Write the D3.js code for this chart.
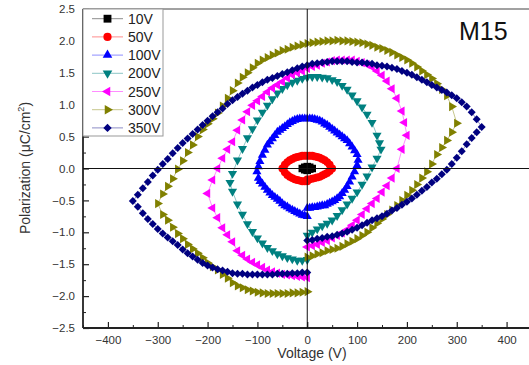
<!DOCTYPE html>
<html>
<head>
<meta charset="utf-8">
<script src="https://cdn.jsdelivr.net/npm/d3@7"></script>
<style>
  body { margin: 0; background: #fff; }
  text { font-family: Arial, "Liberation Sans", sans-serif; }
</style>
</head>
<body>
<svg id="chart" width="529" height="365"></svg>
<script>
// values: [voltage (V), polarization (uC/cm2)]
const seriesNames = ["10V", "50V", "100V", "200V", "250V", "300V", "350V"];
const xTicks = [-400, -300, -200, -100, 0, 100, 200, 300, 400];
const yTicks = [-2.5, -2.0, -1.5, -1.0, -0.5, 0.0, 0.5, 1.0, 1.5, 2.0, 2.5];
const sampleLabel = "M15";

const loop10 = [[0,-0.02],[5,-0.01],[10,0],[5,0.02],[0,0.03],[-5,0.02],[-10,0],[-5,-0.02],[0,-0.03]];

const loop50 = [
  [0,-0.17],[5,-0.17],[10,-0.16],[15,-0.15],[20,-0.14],[25,-0.13],[30,-0.11],[35,-0.09],[40,-0.07],[45,-0.04],[50,0],
  [45,0.06],[40,0.1],[35,0.13],[30,0.15],[25,0.17],[20,0.18],[15,0.19],[10,0.2],[5,0.2],[0,0.2],
  [-5,0.2],[-10,0.2],[-15,0.19],[-20,0.18],[-25,0.17],[-30,0.15],[-35,0.13],[-40,0.1],[-45,0.06],[-50,0],
  [-45,-0.06],[-40,-0.1],[-35,-0.13],[-30,-0.15],[-25,-0.17],[-20,-0.18],[-15,-0.19],[-10,-0.2],[-5,-0.2],[0,-0.2]
];

const loop100 = [
  [0,-0.62],[5,-0.62],[10,-0.61],[15,-0.61],[20,-0.6],[25,-0.59],[30,-0.58],[35,-0.58],[40,-0.56],[45,-0.54],[50,-0.52],
  [55,-0.5],[60,-0.47],[65,-0.44],[70,-0.39],[75,-0.34],[80,-0.28],[85,-0.21],[90,-0.13],[95,-0.05],[100,0.05],[102,0.13],
  [100,0.22],[95,0.28],[90,0.34],[85,0.39],[80,0.44],[75,0.47],[70,0.5],[65,0.53],[60,0.56],[55,0.59],[50,0.62],
  [45,0.65],[40,0.68],[35,0.7],[30,0.73],[25,0.75],[20,0.76],[15,0.77],[10,0.78],[5,0.78],[0,0.78],
  [-5,0.78],[-10,0.78],[-15,0.78],[-20,0.77],[-25,0.76],[-30,0.74],[-35,0.72],[-40,0.69],[-45,0.66],[-50,0.63],
  [-55,0.6],[-60,0.57],[-65,0.52],[-70,0.47],[-75,0.42],[-80,0.37],[-85,0.29],[-90,0.21],[-95,0.11],[-98,0.03],[-101,-0.05],
  [-98,-0.15],[-95,-0.2],[-90,-0.24],[-85,-0.29],[-80,-0.34],[-75,-0.38],[-70,-0.42],[-65,-0.45],[-60,-0.48],[-55,-0.51],
  [-50,-0.55],[-45,-0.58],[-40,-0.6],[-35,-0.63],[-30,-0.65],[-25,-0.67],[-20,-0.69],[-15,-0.71],[-10,-0.73],[-5,-0.74],[0,-0.75]
];

const loop200 = [
  [0,-1.05],[10,-1],[20,-0.95],[30,-0.9],[40,-0.86],[50,-0.81],[60,-0.74],[70,-0.65],[80,-0.56],[90,-0.47],
  [100,-0.37],[110,-0.25],[120,-0.12],[130,0.02],[140,0.16],[148,0.3],
  [145,0.4],[140,0.52],[130,0.72],[120,0.85],[110,0.96],[100,1.06],[90,1.15],[80,1.24],[70,1.3],[60,1.36],
  [50,1.39],[40,1.42],[30,1.43],[20,1.44],[10,1.44],[0,1.43],[-10,1.41],[-20,1.38],[-30,1.35],[-40,1.31],
  [-50,1.25],[-60,1.18],[-70,1.09],[-80,0.99],[-90,0.88],[-100,0.76],[-110,0.62],[-120,0.48],[-130,0.31],
  [-140,0.13],[-150,-0.08],[-155,-0.22],
  [-150,-0.36],[-140,-0.56],[-130,-0.72],[-120,-0.87],[-110,-0.99],[-100,-1.09],[-90,-1.17],[-80,-1.24],
  [-70,-1.29],[-60,-1.34],[-50,-1.37],[-40,-1.4],[-30,-1.42],[-20,-1.44],[-10,-1.44],[0,-1.43]
];

const loop250 = [
  [0,-1.23],[10,-1.21],[20,-1.19],[30,-1.16],[40,-1.13],[50,-1.09],[60,-1.05],[70,-1.01],[80,-0.96],[90,-0.89],
  [100,-0.81],[110,-0.72],[120,-0.63],[130,-0.55],[140,-0.47],[150,-0.37],[160,-0.27],[170,-0.15],[180,0],[190,0.3],[200,0.52],
  [195,0.72],[190,0.9],[180,1.1],[170,1.25],[160,1.37],[150,1.46],[140,1.53],[130,1.59],[120,1.63],[110,1.66],
  [100,1.68],[90,1.7],[80,1.7],[70,1.7],[60,1.7],[50,1.69],[40,1.67],[30,1.65],[20,1.62],[10,1.6],[0,1.57],
  [-10,1.53],[-20,1.5],[-30,1.47],[-40,1.42],[-50,1.36],[-60,1.31],[-70,1.26],[-80,1.2],[-90,1.13],[-100,1.06],
  [-110,0.99],[-120,0.89],[-130,0.76],[-140,0.6],[-150,0.42],[-160,0.3],[-170,0.16],[-180,0],[-190,-0.18],[-200,-0.39],
  [-190,-0.62],[-180,-0.77],[-170,-0.93],[-160,-1.04],[-150,-1.15],[-140,-1.29],[-130,-1.36],[-120,-1.42],[-110,-1.47],
  [-100,-1.51],[-90,-1.55],[-80,-1.59],[-70,-1.62],[-60,-1.64],[-50,-1.66],[-40,-1.67],[-30,-1.68],[-20,-1.69],[-10,-1.7],[0,-1.71]
];

const loop300 = [
  [0,-1.39],[10,-1.37],[20,-1.34],[30,-1.32],[40,-1.29],[50,-1.27],[60,-1.25],[70,-1.22],[80,-1.18],[90,-1.14],
  [100,-1.1],[110,-1.05],[120,-1],[130,-0.93],[140,-0.86],[150,-0.79],[160,-0.72],[170,-0.65],[180,-0.58],[190,-0.5],
  [200,-0.42],[210,-0.34],[220,-0.25],[230,-0.15],[240,-0.05],[250,0.07],[260,0.22],[270,0.33],[280,0.44],[290,0.57],[300,0.71],
  [290,0.97],[280,1.14],[270,1.24],[260,1.33],[250,1.41],[240,1.47],[230,1.53],[220,1.59],[210,1.65],[200,1.7],
  [190,1.74],[180,1.78],[170,1.82],[160,1.85],[150,1.88],[140,1.9],[130,1.93],[120,1.95],[110,1.97],[100,1.98],
  [90,1.99],[80,2],[70,2],[60,2.01],[50,2],[40,2],[30,1.99],[20,1.98],[10,1.97],[0,1.96],
  [-10,1.94],[-20,1.92],[-30,1.9],[-40,1.87],[-50,1.85],[-60,1.81],[-70,1.78],[-80,1.74],[-90,1.7],[-100,1.65],
  [-110,1.58],[-120,1.5],[-130,1.43],[-140,1.34],[-150,1.22],[-160,1.1],[-170,0.98],[-180,0.87],[-190,0.78],[-200,0.7],
  [-210,0.61],[-220,0.5],[-230,0.37],[-240,0.25],[-250,0.12],[-260,-0.01],[-270,-0.16],[-280,-0.28],[-290,-0.4],[-300,-0.55],
  [-290,-0.72],[-280,-0.81],[-270,-0.92],[-260,-1.02],[-250,-1.1],[-240,-1.19],[-230,-1.26],[-220,-1.33],[-210,-1.4],[-200,-1.48],
  [-190,-1.54],[-180,-1.59],[-170,-1.66],[-160,-1.72],[-150,-1.79],[-140,-1.84],[-130,-1.87],[-120,-1.9],[-110,-1.92],[-100,-1.94],
  [-90,-1.95],[-80,-1.96],[-70,-1.96],[-60,-1.96],[-50,-1.96],[-40,-1.96],[-30,-1.95],[-20,-1.95],[-10,-1.94],[0,-1.93]
];

const loop350 = [
  [0,-1.13],[10,-1.12],[20,-1.1],[30,-1.09],[40,-1.07],[50,-1.06],[60,-1.04],[70,-1.02],[80,-0.99],[90,-0.96],
  [100,-0.93],[110,-0.89],[120,-0.85],[130,-0.81],[140,-0.78],[150,-0.75],[160,-0.71],[170,-0.66],[180,-0.62],[190,-0.57],
  [200,-0.52],[210,-0.47],[220,-0.41],[230,-0.35],[240,-0.29],[250,-0.22],[260,-0.16],[270,-0.09],[280,-0.02],[290,0.07],
  [300,0.17],[310,0.27],[320,0.38],[330,0.48],[340,0.57],[350,0.65],
  [340,0.77],[330,0.88],[320,0.97],[310,1.04],[300,1.1],[290,1.15],[280,1.19],[270,1.23],[260,1.27],[250,1.31],
  [240,1.35],[230,1.39],[220,1.43],[210,1.47],[200,1.5],[190,1.53],[180,1.56],[170,1.58],[160,1.6],[150,1.61],
  [140,1.62],[130,1.64],[120,1.65],[110,1.66],[100,1.66],[90,1.67],[80,1.68],[70,1.68],[60,1.68],[50,1.68],
  [40,1.67],[30,1.66],[20,1.65],[10,1.64],[0,1.62],[-10,1.6],[-20,1.57],[-30,1.54],[-40,1.51],[-50,1.48],
  [-60,1.45],[-70,1.42],[-80,1.39],[-90,1.35],[-100,1.31],[-110,1.27],[-120,1.22],[-130,1.17],[-140,1.12],[-150,1.07],
  [-160,1.01],[-170,0.94],[-180,0.88],[-190,0.82],[-200,0.75],[-210,0.68],[-220,0.61],[-230,0.54],[-240,0.47],[-250,0.4],
  [-260,0.32],[-270,0.24],[-280,0.15],[-290,0.07],[-300,-0.02],[-310,-0.11],[-320,-0.21],[-330,-0.31],[-340,-0.41],[-350,-0.51],
  [-340,-0.6],[-330,-0.7],[-320,-0.79],[-310,-0.87],[-300,-0.95],[-290,-1.02],[-280,-1.08],[-270,-1.14],[-260,-1.2],[-250,-1.27],
  [-240,-1.33],[-230,-1.38],[-220,-1.43],[-210,-1.48],[-200,-1.52],[-190,-1.55],[-180,-1.58],[-170,-1.6],[-160,-1.62],[-150,-1.64],
  [-140,-1.65],[-130,-1.65],[-120,-1.66],[-110,-1.66],[-100,-1.66],[-90,-1.66],[-80,-1.66],[-70,-1.66],[-60,-1.65],[-50,-1.65],
  [-40,-1.65],[-30,-1.64],[-20,-1.64],[-10,-1.63],[0,-1.63]
];

const loops = [loop10, loop50, loop100, loop200, loop250, loop300, loop350];

// styling, one entry per series
const colors = ["#000000", "#ff0000", "#0000ff", "#008080", "#ff00ff", "#808000", "#000080"];
const markers = [
  { type: d3.symbolSquare, size: 56, rot: 0 },
  { type: d3.symbolCircle, size: 48, rot: 0 },
  { type: d3.symbolTriangle, size: 36, rot: 0 },
  { type: d3.symbolTriangle, size: 36, rot: 180 },
  { type: d3.symbolTriangle, size: 36, rot: -90 },
  { type: d3.symbolTriangle, size: 36, rot: 90 },
  { type: d3.symbolSquare, size: 32, rot: 45 }
];

const svg = d3.select("#chart");
const plotLeft = 83, plotTop = 9, plotBottom = 328, plotRight = 529;

const x = d3.scaleLinear().domain([-450, 450]).range([plotLeft, 531.5]);
const y = d3.scaleLinear().domain([-2.5, 2.5]).range([plotBottom, plotTop]);

const textColor = "#333";
const fontFam = "Arial, 'Liberation Sans', sans-serif";

// axes (ticks point inward)
const xAxis = d3.axisBottom(x).tickValues(xTicks).tickSize(-6).tickPadding(8)
  .tickFormat(d3.format("d"));
const gx = svg.append("g").attr("transform", `translate(0,${plotBottom})`).call(xAxis);
gx.select(".domain").remove();
gx.selectAll(".tick line").attr("stroke", "#222").attr("stroke-width", 1.2);
gx.selectAll("text").attr("fill", textColor).attr("font-size", 11.5).attr("font-family", fontFam);

const xMinor = d3.axisBottom(x).tickValues(d3.range(-450, 451, 100)).tickSize(-3).tickFormat("");
const gxm = svg.append("g").attr("transform", `translate(0,${plotBottom})`).call(xMinor);
gxm.select(".domain").remove();
gxm.selectAll(".tick line").attr("stroke", "#222");

const yAxis = d3.axisLeft(y).tickValues(yTicks).tickSize(-6).tickPadding(8)
  .tickFormat(d3.format(".1f"));
const gy = svg.append("g").attr("transform", `translate(${plotLeft},0)`).call(yAxis);
gy.select(".domain").remove();
gy.selectAll(".tick line").attr("stroke", "#222").attr("stroke-width", 1.2);
gy.selectAll("text").attr("fill", textColor).attr("font-size", 11.5).attr("font-family", fontFam);

const yMinor = d3.axisLeft(y).tickValues(d3.range(-2.25, 2.5, 0.5)).tickSize(-3).tickFormat("");
const gym = svg.append("g").attr("transform", `translate(${plotLeft},0)`).call(yMinor);
gym.select(".domain").remove();
gym.selectAll(".tick line").attr("stroke", "#222");

// frame: top line, left and bottom axis lines
svg.append("line").attr("x1", plotLeft).attr("x2", plotRight).attr("y1", plotTop).attr("y2", plotTop)
  .attr("stroke", "#444").attr("stroke-width", 1.2);
svg.append("line").attr("x1", plotLeft).attr("x2", plotLeft).attr("y1", plotTop).attr("y2", plotBottom)
  .attr("stroke", "#222").attr("stroke-width", 1.8);
svg.append("line").attr("x1", plotLeft).attr("x2", plotRight).attr("y1", plotBottom).attr("y2", plotBottom)
  .attr("stroke", "#222").attr("stroke-width", 1.8);

// loops
const line = d3.line().x(d => x(d[0])).y(d => y(d[1]));
loops.forEach((data, i) => {
  const g = svg.append("g");
  g.append("path").datum(data).attr("d", line)
    .attr("fill", "none").attr("stroke", colors[i]).attr("stroke-opacity", 0.45).attr("stroke-width", 1);
  const sym = d3.symbol().type(markers[i].type).size(markers[i].size);
  g.selectAll("path.m").data(data).join("path").attr("class", "m")
    .attr("d", sym)
    .attr("transform", d => `translate(${x(d[0])},${y(d[1])}) rotate(${markers[i].rot})`)
    .attr("fill", colors[i]);
});

// zero lines
svg.append("line").attr("x1", x(0)).attr("x2", x(0)).attr("y1", plotTop).attr("y2", plotBottom)
  .attr("stroke", "#111").attr("stroke-width", 1);
svg.append("line").attr("x1", plotLeft).attr("x2", plotRight).attr("y1", y(0)).attr("y2", y(0))
  .attr("stroke", "#111").attr("stroke-width", 1);

// legend
const legend = svg.append("g");
legend.append("rect").attr("x", plotLeft).attr("y", plotTop).attr("width", 80).attr("height", 127)
  .attr("fill", "#fff").attr("stroke", "#999").attr("stroke-width", 1);
seriesNames.forEach((name, i) => {
  const cy = 18.7 + i * 18.2;
  legend.append("line").attr("x1", 92).attr("x2", 123).attr("y1", cy).attr("y2", cy)
    .attr("stroke", colors[i]).attr("stroke-opacity", 0.45).attr("stroke-width", 1);
  legend.append("path")
    .attr("d", d3.symbol().type(markers[i].type).size(markers[i].size * 1.1)())
    .attr("transform", `translate(107.5,${cy}) rotate(${markers[i].rot})`)
    .attr("fill", colors[i]);
  legend.append("text").attr("x", 128).attr("y", cy + 5).attr("font-size", 14)
    .attr("fill", "#222").text(name);
});

// sample label
svg.append("text").attr("x", 459).attr("y", 40).attr("font-size", 25).attr("fill", "#111").text(sampleLabel);

// axis titles
svg.append("text").attr("x", 312).attr("y", 358).attr("text-anchor", "middle")
  .attr("font-size", 14).attr("fill", textColor).text("Voltage (V)");
const yt = svg.append("text").attr("transform", "translate(30,168) rotate(-90)")
  .attr("text-anchor", "middle").attr("font-size", 14).attr("fill", textColor);
yt.append("tspan").text("Polarization (\u03bcC/cm");
yt.append("tspan").attr("font-size", 9).attr("dy", -6).text("2");
yt.append("tspan").attr("dy", 6).text(")");
</script>
</body>
</html>
